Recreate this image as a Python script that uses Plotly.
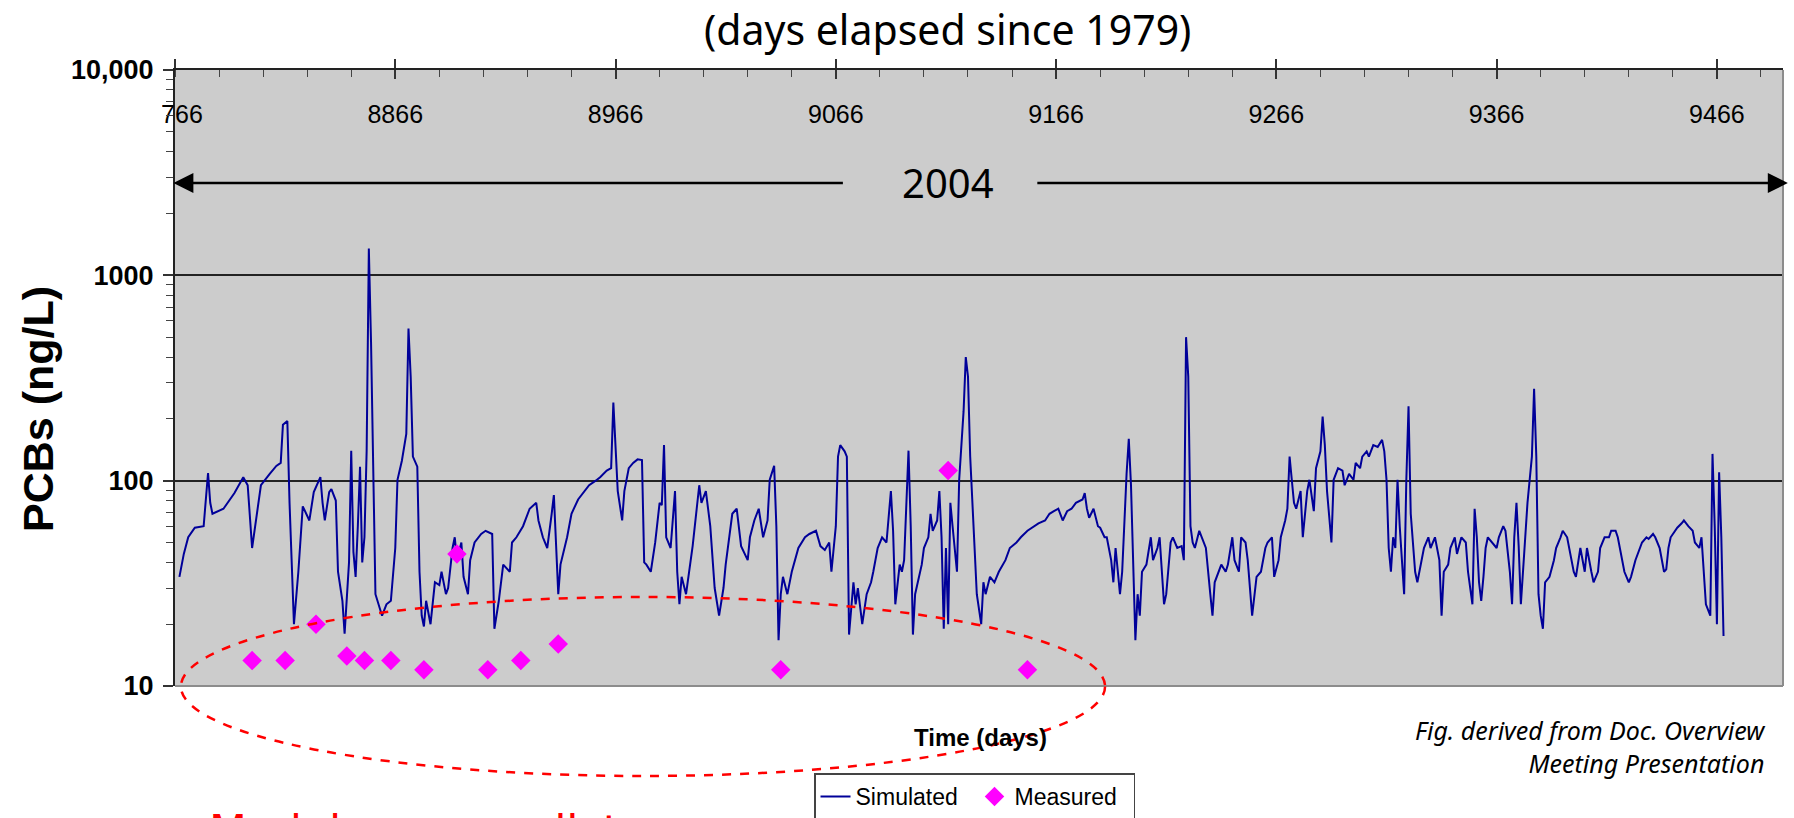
import plotly.graph_objects as go

# Simulated water-column PCB concentration (ng/L) by day elapsed since 1979
sim_day = [
    8768, 8770, 8772, 8775, 8779, 8781, 8782, 8783, 8788, 8793, 8797, 8799, 8801, 8803, 8805,
    8809, 8812, 8814, 8815, 8817, 8818, 8820, 8822, 8824, 8827, 8829, 8832, 8833, 8834, 8836,
    8837, 8839, 8840, 8842, 8843, 8845, 8846, 8847, 8848, 8849, 8850, 8851, 8852, 8853, 8854,
    8855, 8856, 8857, 8860, 8862, 8864, 8866, 8867, 8869, 8871, 8872, 8873, 8874, 8876, 8877,
    8878, 8879, 8880, 8882, 8884, 8886, 8887, 8889, 8890, 8892, 8893, 8894, 8896, 8897, 8899,
    8900, 8902, 8905, 8907, 8910, 8911, 8913, 8915, 8918, 8919, 8921, 8924, 8927, 8930, 8931,
    8933, 8935, 8937, 8938, 8940, 8941, 8944, 8946, 8949, 8952, 8954, 8957, 8959, 8962, 8964,
    8965, 8966, 8967, 8969, 8970, 8972, 8974, 8976, 8978, 8979, 8980, 8982, 8984, 8986, 8987,
    8988, 8989, 8991, 8992, 8993, 8994, 8995, 8996, 8998, 9001, 9003, 9004, 9005, 9007, 9009,
    9010, 9011, 9013, 9015, 9016, 9018, 9019, 9021, 9022, 9023, 9026, 9027, 9029, 9031, 9033,
    9035, 9036, 9038, 9039, 9040, 9041, 9042, 9044, 9046, 9049, 9052, 9054, 9057, 9059, 9061,
    9063, 9064, 9066, 9067, 9068, 9070, 9071, 9072, 9074, 9075, 9076, 9078, 9080, 9082, 9083,
    9085, 9087, 9089, 9091, 9092, 9093, 9095, 9096, 9097, 9099, 9100, 9101, 9102, 9105, 9106,
    9108, 9109, 9110, 9112, 9113, 9114, 9115, 9116, 9117, 9118, 9119, 9121, 9122, 9124, 9125,
    9126, 9127, 9129, 9130, 9132, 9133, 9134, 9136, 9138, 9140, 9143, 9145, 9148, 9150, 9153,
    9155, 9158, 9161, 9163, 9165, 9167, 9169, 9171, 9173, 9175, 9178, 9179, 9180, 9181, 9183,
    9185, 9186, 9188, 9189, 9191, 9192, 9193, 9195, 9196, 9198, 9199, 9200, 9201, 9202, 9203,
    9204, 9205, 9207, 9209, 9210, 9212, 9213, 9215, 9216, 9218, 9219, 9221, 9223, 9224, 9225,
    9226, 9227, 9228, 9229, 9231, 9232, 9234, 9236, 9237, 9238, 9240, 9241, 9243, 9244, 9246,
    9247, 9249, 9250, 9252, 9253, 9255, 9256, 9257, 9259, 9261, 9262, 9264, 9265, 9267, 9268,
    9270, 9271, 9272, 9274, 9275, 9277, 9278, 9280, 9281, 9283, 9284, 9286, 9287, 9288, 9289,
    9291, 9292, 9294, 9296, 9297, 9299, 9301, 9302, 9304, 9305, 9307, 9308, 9310, 9312, 9314,
    9315, 9316, 9317, 9318, 9319, 9320, 9321, 9322, 9324, 9325, 9326, 9327, 9329, 9330, 9332,
    9333, 9335, 9336, 9338, 9340, 9341, 9342, 9344, 9345, 9347, 9348, 9350, 9352, 9353, 9355,
    9356, 9357, 9358, 9359, 9360, 9361, 9362, 9364, 9366, 9367, 9369, 9370, 9372, 9373, 9374,
    9375, 9376, 9377, 9378, 9379, 9380, 9382, 9383, 9384, 9385, 9386, 9387, 9388, 9390, 9392,
    9393, 9395, 9396, 9398, 9399, 9401, 9402, 9404, 9406, 9407, 9409, 9410, 9412, 9413, 9415,
    9417, 9418, 9420, 9421, 9423, 9424, 9426, 9427, 9429, 9431, 9432, 9434, 9435, 9437, 9438,
    9440, 9442, 9443, 9444, 9445, 9447, 9448, 9450, 9451, 9453, 9455, 9456, 9458, 9459, 9460,
    9461, 9463, 9464, 9465, 9466, 9467, 9468, 9469,
]
sim_pcb = [
    34, 44, 53, 59, 60, 109, 78, 69, 73, 87, 104, 95, 47, 69, 95,
    108, 118, 122, 187, 195, 78, 20, 36, 75, 64, 88, 104, 78, 64, 88,
    91, 80, 36, 26, 18, 40, 140, 45, 34, 60, 117, 40, 53, 139, 1350,
    472, 101, 28, 22, 25, 26, 47, 101, 125, 169, 551, 321, 131, 117, 36,
    22, 19.5, 26, 20, 32, 31, 36, 28, 30, 47, 53, 41, 50, 34, 28,
    41, 50, 55, 57, 55, 19, 26, 39, 36, 50, 53, 60, 73, 78, 64,
    53, 47, 69, 85, 28, 39, 53, 69, 81, 89, 95, 100, 104, 112, 115,
    240, 139, 89, 64, 89, 115, 122, 127, 126, 40, 39, 36, 50, 78, 76,
    149, 53, 47, 64, 89, 36, 25, 34, 28, 48, 78, 95, 78, 89, 60,
    44, 30, 22, 30, 39, 57, 69, 73, 60, 48, 41, 53, 64, 73, 53,
    64, 101, 118, 60, 16.7, 28, 34, 28, 36, 47, 53, 55, 57, 48, 46,
    50, 36, 60, 131, 149, 139, 131, 17.8, 32, 25, 30, 20, 28, 32, 36,
    47, 53, 50, 89, 57, 25, 39, 36, 41, 140, 60, 17.8, 28, 39, 47,
    53, 69, 57, 64, 89, 53, 19, 47, 20, 78, 60, 36, 101, 218, 400,
    321, 131, 47, 28, 20, 32, 28, 34, 32, 36, 41, 47, 50, 53, 57,
    59, 62, 64, 69, 71, 73, 64, 71, 73, 78, 81, 87, 73, 66, 73,
    60, 59, 53, 53, 41, 32, 47, 28, 36, 108, 160, 95, 36, 16.7, 28,
    22, 36, 39, 53, 41, 47, 53, 25, 28, 50, 53, 47, 48, 41, 500,
    321, 60, 50, 47, 57, 53, 47, 28, 22, 32, 36, 39, 36, 39, 53,
    41, 36, 53, 50, 41, 22, 28, 34, 36, 47, 50, 53, 34, 41, 53,
    64, 73, 131, 78, 73, 89, 53, 89, 101, 71, 115, 139, 205, 149, 89,
    50, 101, 115, 112, 95, 108, 101, 122, 115, 131, 139, 131, 149, 146, 158,
    139, 101, 47, 36, 53, 47, 101, 60, 28, 101, 230, 69, 36, 32, 41,
    47, 53, 47, 53, 41, 22, 36, 39, 47, 53, 44, 53, 50, 36, 25,
    73, 53, 32, 26, 34, 47, 53, 50, 47, 53, 60, 57, 36, 25, 53,
    78, 48, 25, 36, 50, 78, 131, 280, 131, 28, 22, 19, 32, 34, 41,
    47, 53, 57, 53, 47, 36, 34, 47, 36, 47, 36, 32, 36, 47, 53,
    53, 57, 57, 53, 41, 36, 32, 34, 41, 47, 50, 53, 52, 55, 53,
    47, 36, 37, 47, 53, 57, 59, 62, 64, 60, 57, 50, 47, 53, 34,
    25, 22, 135, 60, 20, 110, 53, 17.5,
]

# Measured PCB samples
meas_day = [8801, 8816, 8830, 8844, 8852, 8864, 8879, 8894, 8908, 8923, 8940, 9041, 9117, 9153]
meas_pcb = [13.3, 13.3, 20, 14, 13.3, 13.3, 12, 44, 12, 13.3, 16, 12, 112, 12]

# Axis ticks
x_tick_start, x_tick_step, x_minor_step = 8766, 100, 20
x_range = [8766, 9496]
y_tickvals = [10, 100, 1000, 10000]
y_ticktext = ["10", "100", "1000", "10,000"]

ARIAL = "Liberation Sans, Arial, sans-serif"
SANS = "Noto Sans, DejaVu Sans, sans-serif"

fig = go.Figure()
fig.add_trace(go.Scatter(
    x=sim_day, y=sim_pcb, mode="lines", name="Simulated",
    line=dict(color="#000099", width=2),
))
fig.add_trace(go.Scatter(
    x=meas_day, y=meas_pcb, mode="markers", name="Measured",
    marker=dict(symbol="diamond", size=15, color="#FF00FF", line=dict(width=0)),
))
# helper trace so the second (tick-only) x axis gets drawn
fig.add_trace(go.Scatter(
    x=[x_range[0]], y=[100], xaxis="x2", mode="markers",
    marker=dict(opacity=0), showlegend=False, hoverinfo="skip",
))

fig.update_layout(
    width=1794, height=818,
    margin=dict(l=175, r=11, t=70, b=132, autoexpand=False),
    paper_bgcolor="white",
    plot_bgcolor="#CCCCCC",
    showlegend=True,
    legend=dict(
        orientation="h", x=0.3974, y=-0.142, xanchor="left", yanchor="top",
        bgcolor="white", bordercolor="#444444", borderwidth=1.5,
        entrywidth=114,
        font=dict(family=ARIAL, size=23, color="black"),
    ),
    xaxis=dict(
        side="top", range=x_range,
        tickmode="linear", tick0=x_tick_start, dtick=x_tick_step,
        ticks="outside", ticklen=9, tickwidth=1.5, tickcolor="#333333",
        ticklabelposition="inside", ticklabelstandoff=37, ticklabeloverflow="allow",
        tickfont=dict(family=ARIAL, size=25, color="black"),
        showline=True, linecolor="#222222", linewidth=2,
        showgrid=False, zeroline=False,
        minor=dict(ticks="inside", ticklen=7, tickwidth=1.2, tickcolor="#444444",
                   tick0=x_tick_start, dtick=x_minor_step, showgrid=False),
    ),
    xaxis2=dict(
        overlaying="x", side="top", anchor="y", range=x_range,
        tickmode="linear", tick0=x_tick_start, dtick=x_tick_step,
        ticks="inside", ticklen=9, tickwidth=1.5, tickcolor="#333333",
        showticklabels=False, showline=False, showgrid=False, zeroline=False,
    ),
    yaxis=dict(
        type="log", range=[1, 4],
        tickmode="array", tickvals=y_tickvals, ticktext=y_ticktext,
        ticks="outside", ticklen=10, tickwidth=1.5, tickcolor="#333333",
        ticklabelstandoff=4,
        tickfont=dict(family=ARIAL, size=27, color="black", weight="bold"),
        showline=True, linecolor="#222222", linewidth=2,
        showgrid=True, gridcolor="#222222", gridwidth=1.5,
        zeroline=False,
        minor=dict(ticks="outside", ticklen=7, tickwidth=1.2, tickcolor="#444444",
                   dtick="D1", showgrid=False),
    ),
)

shapes = [
    # right and bottom frame edges of the plotting area
    dict(type="line", xref="paper", yref="paper", x0=1, x1=1, y0=0, y1=1,
         line=dict(color="#8C8C8C", width=2), layer="above"),
    dict(type="line", xref="paper", yref="paper", x0=0, x1=1, y0=0, y1=0,
         line=dict(color="#8C8C8C", width=2), layer="above"),
    # dashed ellipse around the low measured values
    dict(type="circle", xref="paper", yref="paper",
         x0=0.0037, x1=0.5784, y0=-0.1461, y1=0.1445,
         line=dict(color="#FF0000", width=2.5, dash="dash"), layer="above"),
    # trims the first x tick label at the left edge
    dict(type="rect", xref="paper", yref="paper",
         x0=-0.024, x1=-0.0081, y0=0.885, y1=0.955,
         fillcolor="white", line=dict(width=0), layer="above"),
]
fig.update_layout(shapes=shapes)

annotations = [
    dict(text="(days elapsed since 1979)", xref="paper", yref="paper",
         x=0.4807, y=1.0658, xanchor="center", yanchor="middle", showarrow=False,
         font=dict(family=SANS, size=41, color="black")),
    dict(text="2004", xref="paper", yref="paper",
         x=0.4807, y=0.8166, xanchor="center", yanchor="middle", showarrow=False,
         font=dict(family=SANS, size=40, color="black")),
    # year span arrows
    dict(text="", xref="paper", yref="paper", x=-0.001, y=0.8166,
         ax=671, ay=0, showarrow=True, arrowhead=2, arrowsize=1.6,
         arrowwidth=2.5, arrowcolor="black"),
    dict(text="", xref="paper", yref="paper", x=1.003, y=0.8166,
         ax=-752, ay=0, showarrow=True, arrowhead=2, arrowsize=1.6,
         arrowwidth=2.5, arrowcolor="black"),
    dict(text="Time (days)", xref="paper", yref="paper",
         x=0.5012, y=-0.0844, xanchor="center", yanchor="middle", showarrow=False,
         font=dict(family=ARIAL, size=24, color="black", weight="bold")),
    dict(text="PCBs (ng/L)", xref="paper", yref="paper", textangle=-90,
         x=-0.0852, y=0.4497, xanchor="center", yanchor="middle", showarrow=False,
         font=dict(family=ARIAL, size=43, color="black", weight="bold")),
    dict(text="Fig. derived from Doc. Overview<br>Meeting Presentation",
         xref="paper", yref="paper", x=0.9907, y=-0.0990,
         xanchor="right", yanchor="middle", align="right", showarrow=False,
         font=dict(family=SANS, size=25, color="black", style="italic")),
    dict(text="Model over-predicts", xref="paper", yref="paper",
         x=0.0199, y=-0.2354, xanchor="left", yanchor="middle", showarrow=False,
         font=dict(family="DejaVu Sans, sans-serif", size=44, color="#FF0000")),
]
fig.update_layout(annotations=annotations)

fig.write_html("out.html")
